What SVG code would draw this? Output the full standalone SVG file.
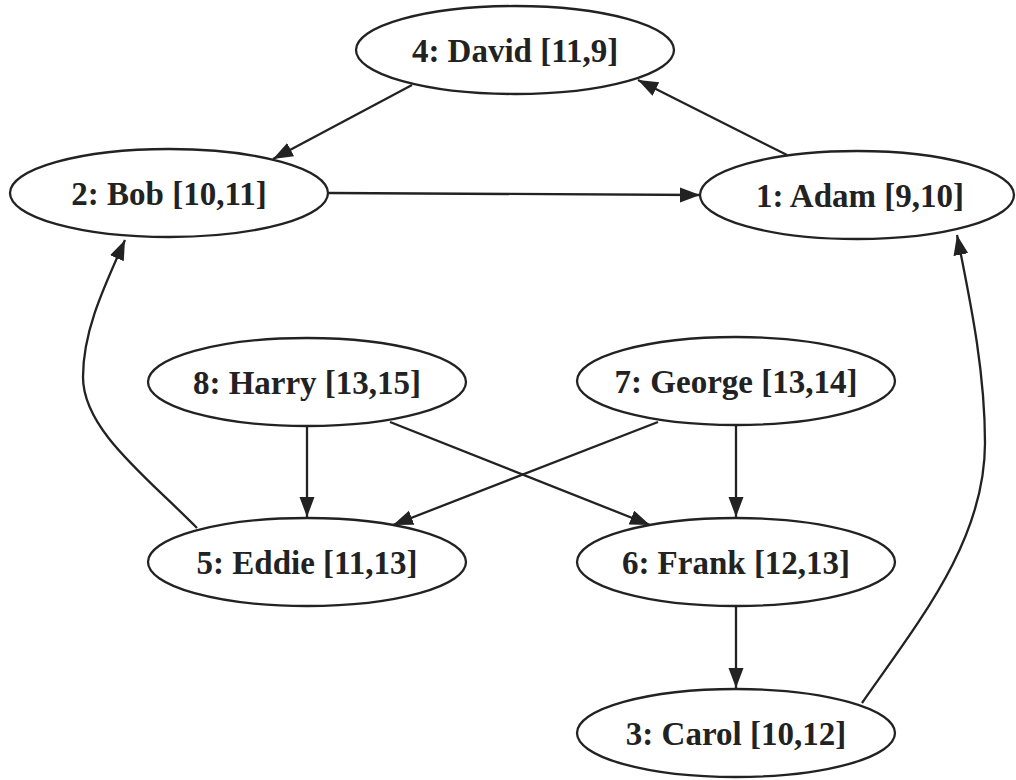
<svg xmlns="http://www.w3.org/2000/svg" width="1016" height="780" viewBox="0 0 1016 780">
  <style>
    .node ellipse { fill: #ffffff; stroke: #222222; stroke-width: 2.3; }
    .node text { font-family: "Liberation Serif", "Times New Roman", serif; font-weight: bold; font-size: 33px; fill: #222222; text-anchor: middle; }
    .edge { fill: none; stroke: #222222; stroke-width: 2.3; marker-end: url(#arrow); }
  </style>
  <defs>
    <marker id="arrow" markerUnits="userSpaceOnUse" markerWidth="21" markerHeight="16" refX="20" refY="7.5" orient="auto">
      <path d="M0,0 L20,7.5 L0,15 z" fill="#222222"/>
    </marker>
  </defs>
  <rect width="1016" height="780" fill="#ffffff"/>

  <g id="connectors">
    <line class="edge" x1="412" y1="85" x2="273" y2="159"/>
    <line class="edge" x1="787" y1="155" x2="638" y2="80"/>
    <line class="edge" x1="329" y1="193" x2="700" y2="195"/>
    <path class="edge" d="M197,528 C148,478 83,430 83,377 C83,330 105,285 125,240"/>
    <path class="edge" d="M862,703 C920,620 985,540 985,443 C985,370 970,300 957,235"/>
    <line class="edge" x1="307" y1="427" x2="307" y2="517"/>
    <line class="edge" x1="390" y1="422" x2="650" y2="525"/>
    <line class="edge" x1="658" y1="422" x2="393" y2="525"/>
    <line class="edge" x1="736" y1="426" x2="736" y2="517"/>
    <line class="edge" x1="736" y1="607" x2="736" y2="688"/>
  </g>

  <g id="node-david" class="node">
    <ellipse cx="515" cy="50" rx="159" ry="44"/>
    <text x="515" y="62">4: David [11,9]</text>
  </g>
  <g id="node-bob" class="node">
    <ellipse cx="169" cy="193" rx="159" ry="44"/>
    <text x="169" y="205">2: Bob [10,11]</text>
  </g>
  <g id="node-adam" class="node">
    <ellipse cx="857" cy="195" rx="157" ry="44"/>
    <text x="860" y="207">1: Adam [9,10]</text>
  </g>
  <g id="node-harry" class="node">
    <ellipse cx="307" cy="382" rx="159" ry="44"/>
    <text x="307" y="394">8: Harry [13,15]</text>
  </g>
  <g id="node-george" class="node">
    <ellipse cx="736" cy="381" rx="159" ry="44"/>
    <text x="736" y="393">7: George [13,14]</text>
  </g>
  <g id="node-eddie" class="node">
    <ellipse cx="307" cy="562" rx="159" ry="44"/>
    <text x="307" y="574">5: Eddie [11,13]</text>
  </g>
  <g id="node-frank" class="node">
    <ellipse cx="736" cy="562" rx="159" ry="44"/>
    <text x="736" y="574">6: Frank [12,13]</text>
  </g>
  <g id="node-carol" class="node">
    <ellipse cx="736" cy="733" rx="159" ry="44"/>
    <text x="736" y="745">3: Carol [10,12]</text>
  </g>
</svg>
